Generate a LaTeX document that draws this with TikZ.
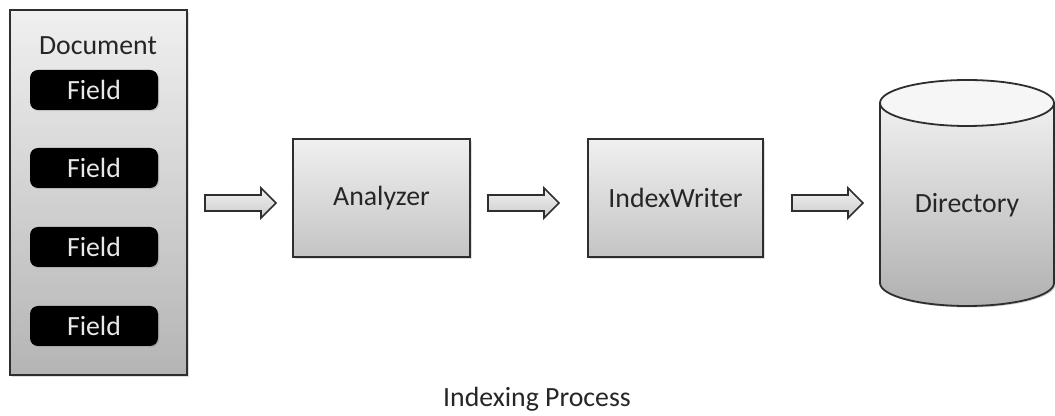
\documentclass[tikz,border=0pt]{standalone}
\usepackage{fontspec}
\setmainfont{Carlito}
\usetikzlibrary{shadows}
\definecolor{edge}{HTML}{2E2E2E}
\definecolor{boxtop}{HTML}{F0F0F0}
\definecolor{boxbot}{HTML}{C4C4C4}
\definecolor{fieldtxt}{HTML}{E8E8E8}
\definecolor{txt}{HTML}{262626}
\tikzset{
  every node/.style={font=\fontsize{13.9}{16}\selectfont, text=txt},
  grayblock/.style={draw=edge, line width=0.9pt, top color=boxtop, bottom color=boxbot,
    drop shadow={shadow xshift=0.8pt, shadow yshift=-0.8pt, opacity=0.25}},
  fieldbox/.style={fill=black, rounded corners=4pt, minimum width=64pt, minimum height=20pt,
    text=fieldtxt, inner sep=0pt,
    drop shadow={shadow xshift=0.6pt, shadow yshift=-0.6pt, opacity=0.3}},
  arrowbody/.style={draw=edge, line width=0.8pt, top color=boxtop, bottom color=boxbot!85!white, line join=miter},
  pics/barrow/.style={code={
    \draw[arrowbody] (0,-8) -- (56,-8) -- (56,-15) -- (71,0) -- (56,15) -- (56,8) -- (0,8) -- cycle;
  }}
}
\begin{document}
\begin{tikzpicture}[x=0.5pt, y=-0.5pt]
\useasboundingbox (0,0) rectangle (1055,416);
\fill[white] (0,0) rectangle (1055,416);

% Document with fields
\node[grayblock, minimum width=88.5pt, minimum height=182.5pt, inner sep=0pt,
      top color=boxtop, bottom color=boxbot!92!black] (doc) at (98.5,192.5) {};
\node (doctitle) at (98,46) {Document};
\node[fieldbox] (f1) at (94,90) {Field};
\node[fieldbox] (f2) at (94,168) {Field};
\node[fieldbox] (f3) at (94,247) {Field};
\node[fieldbox] (f4) at (94,326) {Field};

% Analyzer and IndexWriter
\node[grayblock, minimum width=88.5pt, minimum height=59pt, inner sep=0pt] (ana) at (381.5,198) {Analyzer};
\node[grayblock, minimum width=87.5pt, minimum height=59pt, inner sep=0pt] (iw) at (675.5,198) {IndexWriter};

% Directory cylinder
\coordinate (cylTL) at (880,103);
\coordinate (cylTR) at (1054,103);
\fill[black, opacity=0.2] (881.5,104.5) -- (881.5,284.5) arc[start angle=180, end angle=360, x radius=43.5pt, y radius=11.5pt] -- (1055.5,104.5) -- cycle;
\draw[draw=edge, line width=0.9pt, top color=boxtop, bottom color=boxbot!90!black]
  (cylTL) -- (880,283) arc[start angle=180, end angle=360, x radius=43.5pt, y radius=11.5pt] -- (cylTR) -- cycle;
\draw[draw=edge, line width=0.9pt, fill=boxtop!60!white] (967,103) ellipse[x radius=43.5pt, y radius=11.5pt];
\node (dir) at (967,205) {Directory};

% Block arrows between the stages
\coordinate (a1) at (205,203);
\coordinate (a2) at (488,203);
\coordinate (a3) at (792,203);
\pic at (a1) {barrow};
\pic at (a2) {barrow};
\pic at (a3) {barrow};

% Caption
\node (cap) at (537,399) {Indexing Process};
\end{tikzpicture}
\end{document}
